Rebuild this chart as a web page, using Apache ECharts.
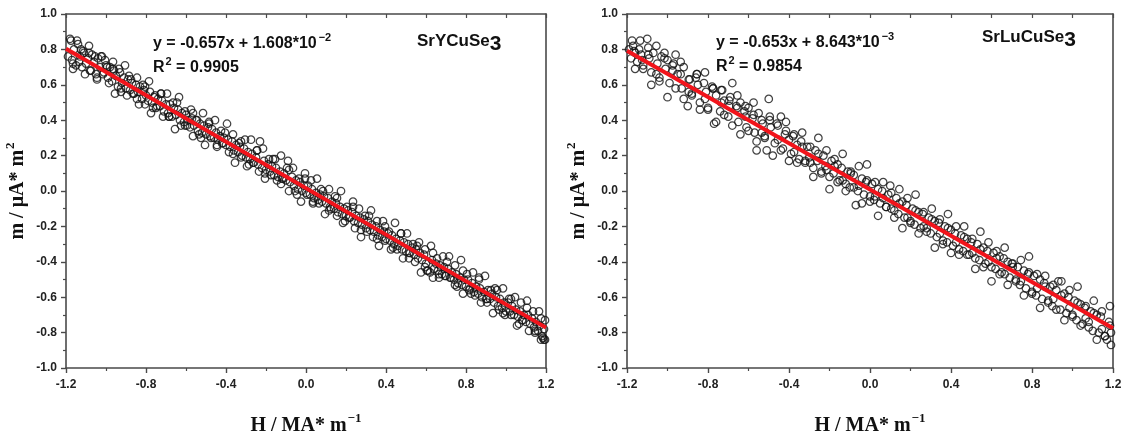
<!DOCTYPE html>
<html><head><meta charset="utf-8">
<script src="https://cdn.jsdelivr.net/npm/echarts@6/dist/echarts.min.js"></script>
<style>html,body{margin:0;padding:0;background:#fff}#c{width:1130px;height:441px}</style>
</head><body><div id="c"></div>
<script>
// ---- data ----
const leftPoints = [
[-1.19,0.76],[-1.18,0.86],[-1.17,0.74],[-1.16,0.80],[-1.15,0.71],[-1.14,0.83],[-1.13,0.76],[-1.12,0.70],[-1.11,0.78],[-1.10,0.72],
[-1.09,0.75],[-1.08,0.68],[-1.07,0.77],[-1.06,0.73],[-1.05,0.66],[-1.04,0.75],[-1.03,0.70],[-1.02,0.76],[-1.01,0.67],[-1.00,0.71],
[-0.99,0.64],[-0.98,0.70],[-0.97,0.62],[-0.96,0.68],[-0.95,0.65],[-0.94,0.59],[-0.93,0.67],[-0.92,0.61],[-0.91,0.64],[-0.90,0.58],
[-0.89,0.63],[-0.88,0.57],[-0.87,0.61],[-0.86,0.55],[-0.85,0.60],[-0.84,0.56],[-0.83,0.59],[-0.82,0.52],[-0.81,0.57],[-0.80,0.54],
[-0.79,0.51],[-0.78,0.56],[-0.77,0.50],[-0.76,0.53],[-0.75,0.47],[-0.74,0.52],[-0.73,0.48],[-0.72,0.51],[-0.71,0.45],[-0.70,0.49],
[-0.69,0.44],[-0.68,0.49],[-0.67,0.42],[-0.66,0.47],[-0.65,0.43],[-0.64,0.46],[-0.63,0.40],[-0.62,0.44],[-0.61,0.39],[-0.60,0.43],
[-0.59,0.40],[-0.58,0.36],[-0.57,0.41],[-0.56,0.37],[-0.55,0.40],[-0.54,0.34],[-0.53,0.38],[-0.52,0.33],[-0.51,0.37],[-0.50,0.32],
[-0.49,0.36],[-0.48,0.31],[-0.47,0.35],[-0.46,0.30],[-0.45,0.33],[-0.44,0.29],[-0.43,0.31],[-0.42,0.27],[-0.41,0.30],[-0.40,0.26],
[-0.39,0.29],[-0.38,0.25],[-0.37,0.28],[-0.36,0.23],[-0.35,0.26],[-0.34,0.22],[-0.33,0.25],[-0.32,0.20],[-0.31,0.24],[-0.30,0.19],
[-0.29,0.22],[-0.28,0.18],[-0.27,0.21],[-0.26,0.16],[-0.25,0.19],[-0.24,0.15],[-0.23,0.28],[-0.22,0.13],[-0.21,0.17],[-0.20,0.12],
[-0.19,0.15],[-0.18,0.11],[-0.17,0.14],[-0.16,0.09],[-0.15,0.13],[-0.14,0.08],[-0.13,0.11],[-0.12,0.07],[-0.11,0.10],[-0.10,0.06],
[-0.09,0.17],[-0.08,0.05],[-0.07,0.08],[-0.06,0.03],[-0.05,0.06],[-0.04,0.01],[-0.03,0.05],[-0.02,0.00],[-0.01,0.03],[0.00,-0.01],
[0.01,0.03],[0.02,-0.02],[0.03,0.01],[0.04,-0.04],[0.05,-0.01],[0.06,-0.05],[0.07,-0.02],[0.08,-0.06],[0.09,-0.03],[0.10,-0.07],
[0.11,-0.04],[0.12,-0.09],[0.13,-0.06],[0.14,-0.10],[0.15,-0.07],[0.16,-0.12],[0.17,-0.09],[0.18,-0.13],[0.19,-0.10],[0.20,-0.14],
[0.21,-0.11],[0.22,-0.15],[0.23,-0.12],[0.24,-0.17],[0.25,-0.14],[0.26,-0.18],[0.27,-0.15],[0.28,-0.19],[0.29,-0.16],[0.30,-0.21],
[0.31,-0.17],[0.32,-0.22],[0.33,-0.19],[0.34,-0.23],[0.35,-0.20],[0.36,-0.25],[0.37,-0.22],[0.38,-0.26],[0.39,-0.23],[0.40,-0.27],
[0.41,-0.24],[0.42,-0.28],[0.43,-0.25],[0.44,-0.30],[0.45,-0.27],[0.46,-0.31],[0.47,-0.28],[0.48,-0.33],[0.49,-0.29],[0.50,-0.34],
[0.51,-0.30],[0.52,-0.35],[0.53,-0.32],[0.54,-0.36],[0.55,-0.33],[0.56,-0.38],[0.57,-0.35],[0.58,-0.39],[0.59,-0.36],[0.60,-0.41],
[0.61,-0.45],[0.62,-0.46],[0.63,-0.39],[0.64,-0.44],[0.65,-0.41],[0.66,-0.45],[0.67,-0.42],[0.68,-0.47],[0.69,-0.43],[0.70,-0.48],
[0.71,-0.44],[0.72,-0.49],[0.73,-0.46],[0.74,-0.50],[0.75,-0.47],[0.76,-0.52],[0.77,-0.49],[0.78,-0.53],[0.79,-0.50],[0.80,-0.54],
[0.81,-0.50],[0.82,-0.55],[0.83,-0.52],[0.84,-0.57],[0.85,-0.54],[0.86,-0.58],[0.87,-0.55],[0.88,-0.60],[0.89,-0.57],[0.90,-0.61],
[0.91,-0.56],[0.92,-0.61],[0.93,-0.58],[0.94,-0.63],[0.95,-0.60],[0.96,-0.65],[0.97,-0.61],[0.98,-0.66],[0.99,-0.63],[1.00,-0.68],
[1.01,-0.63],[1.02,-0.68],[1.03,-0.65],[1.04,-0.70],[1.05,-0.67],[1.06,-0.71],[1.07,-0.68],[1.08,-0.73],[1.09,-0.70],[1.10,-0.74],
[1.11,-0.70],[1.12,-0.75],[1.13,-0.72],[1.14,-0.77],[1.15,-0.74],[1.16,-0.79],[1.17,-0.76],[1.18,-0.82],[1.19,-0.78],[1.19,-0.84],
[-1.165,0.69],[-1.125,0.80],[-1.085,0.78],[-1.045,0.64],[-1.005,0.74],[-0.965,0.69],[-0.925,0.56],[-0.885,0.65],[-0.845,0.52],[-0.805,0.59],
[-0.765,0.47],[-0.725,0.55],[-0.685,0.42],[-0.645,0.50],[-0.605,0.37],[-0.565,0.44],[-0.525,0.30],[-0.485,0.38],[-0.445,0.26],[-0.405,0.33],
[-0.365,0.21],[-0.325,0.28],[-0.285,0.15],[-0.245,0.23],[-0.205,0.10],[-0.165,0.18],[-0.125,0.04],[-0.085,0.12],[-0.045,-0.02],[-0.005,0.07],
[0.035,-0.06],[0.075,0.01],[0.115,-0.11],[0.155,-0.04],[0.195,-0.17],[0.235,-0.09],[0.275,-0.22],[0.315,-0.14],[0.355,-0.27],[0.395,-0.20],
[0.435,-0.32],[0.475,-0.24],[0.515,-0.38],[0.555,-0.31],[0.595,-0.43],[0.635,-0.35],[0.665,-0.47],[0.705,-0.40],[0.745,-0.53],[0.785,-0.45],
[0.825,-0.58],[0.865,-0.50],[0.905,-0.63],[0.945,-0.55],[0.985,-0.69],[1.025,-0.61],[1.065,-0.75],[1.105,-0.66],[1.145,-0.80],[1.175,-0.72],[1.185,-0.83],
[-1.175,0.85],[-1.145,0.85],[-1.115,0.79],[-1.085,0.82],[-1.055,0.76],[-1.025,0.76],[-0.995,0.70],[-0.965,0.73],[-0.935,0.69],[-0.905,0.71],
[-0.875,0.63],[-0.845,0.64],[-0.815,0.60],[-0.785,0.62],[-0.755,0.54],[-0.725,0.55],[-0.695,0.55],[-0.665,0.50],[-0.635,0.53],[-0.605,0.45],
[-0.575,0.46],[-0.545,0.40],[-0.515,0.44],[-0.485,0.39],[-0.455,0.40],[-0.425,0.34],[-0.395,0.38],[-0.365,0.32],[-0.335,0.27],[-0.305,0.29],
[-0.275,0.29],[-0.245,0.23],[-0.215,0.24],[-0.185,0.18],[-0.155,0.18],[-0.125,0.20],[-0.095,0.13],[-0.065,0.13],[-0.035,0.07],[-0.005,0.10],
[0.025,0.06],[0.055,0.07],[0.085,0.00],[0.115,0.01],[0.145,-0.03],[0.175,0.00],[0.205,-0.09],[0.235,-0.06],[0.265,-0.10],[0.295,-0.14],
[0.325,-0.11],[0.355,-0.17],[0.385,-0.17],[0.415,-0.23],[0.445,-0.18],[0.475,-0.24],[0.505,-0.24],[0.535,-0.30],[0.565,-0.29],[0.595,-0.33],
[0.625,-0.31],[0.655,-0.38],[0.685,-0.37],[0.715,-0.37],[0.745,-0.42],[0.775,-0.39],[0.805,-0.47],[0.835,-0.46],[0.865,-0.49],[0.895,-0.48],
[0.925,-0.56],[0.955,-0.56],[0.985,-0.55],[1.015,-0.61],[1.045,-0.60],[1.075,-0.63],[1.105,-0.62],[1.135,-0.68],[1.165,-0.68],[1.195,-0.73],
[-1.165,0.72],[-1.135,0.73],[-1.105,0.66],[-1.075,0.68],[-1.045,0.63],[-1.015,0.66],[-0.985,0.61],[-0.955,0.55],[-0.925,0.58],[-0.895,0.54],
[-0.865,0.55],[-0.835,0.49],[-0.805,0.49],[-0.775,0.44],[-0.745,0.48],[-0.715,0.42],[-0.685,0.42],[-0.655,0.35],[-0.625,0.37],[-0.595,0.37],
[-0.565,0.31],[-0.535,0.32],[-0.505,0.26],[-0.475,0.30],[-0.445,0.25],[-0.415,0.27],[-0.385,0.22],[-0.355,0.16],[-0.325,0.19],[-0.295,0.14],
[-0.265,0.16],[-0.235,0.11],[-0.205,0.07],[-0.175,0.09],[-0.145,0.06],[-0.115,0.07],[-0.085,0.00],[-0.055,0.00],[-0.025,-0.06],[0.005,-0.02],
[0.035,-0.07],[0.065,-0.07],[0.095,-0.13],[0.125,-0.10],[0.155,-0.14],[0.185,-0.18],[0.215,-0.15],[0.245,-0.21],[0.275,-0.26],[0.305,-0.23],
[0.335,-0.26],[0.365,-0.31],[0.395,-0.28],[0.425,-0.33],[0.455,-0.33],[0.485,-0.38],[0.515,-0.35],[0.545,-0.40],[0.575,-0.46],[0.605,-0.45],
[0.635,-0.49],[0.665,-0.49],[0.695,-0.48],[0.725,-0.49],[0.755,-0.54],[0.785,-0.58],[0.815,-0.56],[0.845,-0.59],[0.875,-0.63],[0.905,-0.61],
[0.935,-0.69],[0.965,-0.67],[0.995,-0.70],[1.025,-0.70],[1.055,-0.76],[1.085,-0.73],[1.115,-0.79],[1.145,-0.79],[1.175,-0.84],[1.195,-0.84]
];
const rightPoints = [
[-1.19,0.80],[-1.18,0.75],[-1.17,0.82],[-1.16,0.78],[-1.15,0.73],[-1.14,0.80],[-1.13,0.77],[-1.12,0.71],[-1.10,0.86],[-1.09,0.75],
[-1.08,0.67],[-1.07,0.78],[-1.05,0.72],[-1.04,0.64],[-1.03,0.76],[-1.01,0.69],[-1.00,0.74],[-0.99,0.61],[-0.97,0.72],[-0.96,0.77],
[-0.95,0.66],[-0.93,0.58],[-0.92,0.70],[-0.90,0.48],[-0.89,0.63],[-0.88,0.55],[-0.86,0.64],[-0.85,0.60],[-0.84,0.50],[-0.82,0.61],
[-0.81,0.56],[-0.80,0.47],[-0.78,0.59],[-0.77,0.38],[-0.76,0.54],[-0.74,0.45],[-0.73,0.57],[-0.72,0.51],[-0.70,0.42],[-0.69,0.53],
[-0.68,0.61],[-0.66,0.48],[-0.65,0.39],[-0.64,0.50],[-0.62,0.45],[-0.61,0.36],[-0.60,0.47],[-0.58,0.41],[-0.57,0.33],[-0.56,0.23],
[-0.55,0.44],[-0.53,0.38],[-0.52,0.30],[-0.51,0.23],[-0.50,0.52],[-0.49,0.36],[-0.47,0.27],[-0.46,0.38],[-0.44,0.42],[-0.43,0.24],
[-0.42,0.32],[-0.40,0.29],[-0.39,0.21],[-0.38,0.31],[-0.36,0.26],[-0.35,0.18],[-0.34,0.28],[-0.32,0.16],[-0.31,0.25],[-0.30,0.19],
[-0.28,0.13],[-0.27,0.23],[-0.26,0.17],[-0.24,0.11],[-0.23,0.20],[-0.22,0.14],[-0.20,0.08],[-0.19,0.17],[-0.18,0.10],[-0.16,0.15],
[-0.15,0.06],[-0.14,0.13],[-0.12,0.04],[-0.11,0.11],[-0.10,0.02],[-0.08,0.09],[-0.07,-0.08],[-0.06,0.00],[-0.04,0.07],[-0.03,-0.02],
[-0.02,0.05],[0.00,-0.03],[0.01,0.04],[0.02,-0.05],[0.04,0.01],[0.05,-0.07],[0.06,0.00],[0.08,-0.09],[0.09,-0.02],[0.10,0.03],
[0.12,-0.11],[0.13,-0.04],[0.14,-0.13],[0.16,-0.06],[0.17,-0.15],[0.18,-0.08],[0.20,-0.17],[0.21,-0.10],[0.22,-0.19],[0.24,-0.12],
[0.25,-0.21],[0.26,-0.13],[0.28,-0.23],[0.29,-0.15],[0.30,-0.24],[0.32,-0.17],[0.33,-0.26],[0.34,-0.18],[0.36,-0.28],[0.37,-0.20],
[0.38,-0.29],[0.40,-0.22],[0.41,-0.31],[0.42,-0.24],[0.44,-0.33],[0.45,-0.25],[0.46,-0.34],[0.48,-0.27],[0.49,-0.36],[0.50,-0.29],
[0.52,-0.38],[0.53,-0.30],[0.54,-0.39],[0.56,-0.32],[0.57,-0.41],[0.58,-0.34],[0.60,-0.43],[0.61,-0.35],[0.62,-0.44],[0.64,-0.37],
[0.65,-0.46],[0.66,-0.38],[0.68,-0.40],[0.69,-0.49],[0.70,-0.41],[0.72,-0.51],[0.73,-0.43],[0.74,-0.53],[0.76,-0.45],[0.77,-0.55],
[0.78,-0.47],[0.80,-0.57],[0.81,-0.48],[0.82,-0.59],[0.84,-0.50],[0.85,-0.61],[0.86,-0.52],[0.88,-0.63],[0.89,-0.54],[0.90,-0.65],
[0.92,-0.56],[0.93,-0.51],[0.94,-0.67],[0.96,-0.58],[0.97,-0.69],[0.98,-0.60],[1.00,-0.71],[1.01,-0.62],[1.02,-0.73],[1.04,-0.64],
[1.05,-0.75],[1.06,-0.66],[1.08,-0.77],[1.09,-0.68],[1.10,-0.79],[1.12,-0.70],[1.13,-0.80],[1.14,-0.71],[1.16,-0.82],[1.17,-0.84],
[1.18,-0.74],[1.19,-0.80],
[-1.165,0.79],[-1.125,0.74],[-1.095,0.81],[-1.055,0.66],[-1.015,0.78],[-0.975,0.68],[-0.935,0.66],[-0.895,0.56],[-0.855,0.66],[-0.815,0.52],
[-0.775,0.58],[-0.735,0.50],[-0.695,0.48],[-0.655,0.47],[-0.615,0.42],[-0.575,0.43],[-0.535,0.33],[-0.495,0.40],[-0.455,0.29],[-0.415,0.34],
[-0.375,0.22],[-0.335,0.25],[-0.295,0.16],[-0.255,0.21],[-0.215,0.12],[-0.175,0.14],[-0.135,0.06],[-0.095,0.10],[-0.055,0.03],[-0.015,0.06],
[0.025,-0.03],[0.065,-0.04],[0.105,-0.10],[0.145,-0.07],[0.185,-0.15],[0.225,-0.11],[0.265,-0.20],[0.305,-0.16],[0.345,-0.24],[0.385,-0.21],
[0.425,-0.29],[0.465,-0.26],[0.505,-0.35],[0.545,-0.33],[0.585,-0.40],[0.625,-0.38],[0.665,-0.47],[0.705,-0.43],[0.745,-0.51],[0.785,-0.46],
[0.825,-0.55],[0.865,-0.54],[0.905,-0.61],[0.945,-0.59],[0.985,-0.66],[1.025,-0.63],[1.065,-0.72],[1.105,-0.69],[1.145,-0.78],[1.185,-0.76],
[-1.175,0.85],[-1.135,0.85],[-1.095,0.77],[-1.055,0.82],[-1.015,0.75],[-0.975,0.71],[-0.935,0.73],[-0.895,0.63],[-0.855,0.66],[-0.815,0.67],
[-0.775,0.58],[-0.735,0.57],[-0.695,0.51],[-0.655,0.54],[-0.615,0.48],[-0.575,0.50],[-0.535,0.40],[-0.495,0.42],[-0.455,0.37],[-0.415,0.39],
[-0.375,0.32],[-0.335,0.33],[-0.295,0.25],[-0.255,0.30],[-0.215,0.23],[-0.175,0.18],[-0.135,0.21],[-0.095,0.11],[-0.055,0.14],[-0.015,0.15],
[0.025,0.05],[0.065,0.05],[0.105,-0.01],[0.145,0.01],[0.185,-0.04],[0.225,-0.02],[0.265,-0.12],[0.305,-0.10],[0.345,-0.16],[0.385,-0.13],
[0.425,-0.20],[0.465,-0.20],[0.505,-0.27],[0.545,-0.23],[0.585,-0.29],[0.625,-0.34],[0.665,-0.32],[0.705,-0.41],[0.745,-0.39],[0.785,-0.37],
[0.825,-0.47],[0.865,-0.48],[0.905,-0.53],[0.945,-0.51],[0.985,-0.56],[1.025,-0.54],[1.065,-0.65],[1.105,-0.62],[1.145,-0.68],[1.185,-0.65],
[-1.16,0.69],[-1.12,0.69],[-1.08,0.60],[-1.04,0.62],[-1.00,0.53],[-0.96,0.58],[-0.92,0.52],[-0.88,0.54],[-0.84,0.46],[-0.80,0.46],
[-0.76,0.39],[-0.72,0.43],[-0.68,0.37],[-0.64,0.32],[-0.60,0.34],[-0.56,0.28],[-0.52,0.31],[-0.48,0.20],[-0.44,0.23],[-0.40,0.17],
[-0.36,0.16],[-0.32,0.17],[-0.28,0.08],[-0.24,0.10],[-0.20,0.01],[-0.16,0.05],[-0.12,0.00],[-0.08,0.02],[-0.04,-0.07],[0.00,-0.06],
[0.04,-0.14],[0.08,-0.09],[0.12,-0.15],[0.16,-0.21],[0.20,-0.18],[0.24,-0.24],[0.28,-0.21],[0.32,-0.32],[0.36,-0.30],[0.40,-0.35],
[0.44,-0.36],[0.48,-0.36],[0.52,-0.44],[0.56,-0.43],[0.60,-0.51],[0.64,-0.47],[0.68,-0.53],[0.72,-0.50],[0.76,-0.59],[0.80,-0.58],
[0.84,-0.66],[0.88,-0.62],[0.92,-0.67],[0.96,-0.73],[1.00,-0.70],[1.04,-0.76],[1.08,-0.74],[1.12,-0.84],[1.16,-0.82],[1.19,-0.87]
];
const leftFitX = [-1.2, 1.2];
const leftFitY = [0.804, -0.772];
const rightFitX = [-1.2, 1.2];
const rightFitY = [0.792, -0.775];
const leftEquation = ['y = -0.657x + 1.608*10', '\u22122', '0.9905'];
const rightEquation = ['y = -0.653x + 8.643*10', '\u22123', '0.9854'];
const compounds = ['SrYCuSe', 'SrLuCuSe'];
const xTitle = ['H / MA* m', '\u22121'];
const yTitle = ['m / \u03bcA* m', '2'];

// ---- chart ----
const chart = echarts.init(document.getElementById('c'), null, {renderer: 'canvas'});
const axisColor = '#4a4a4a';
const sans = 'Liberation Sans, Arial, sans-serif';
const serif = 'Liberation Serif, Times New Roman, serif';
const tickFmt = v => v.toFixed(1);
const grids = [
  {left: 66, top: 14, width: 480, height: 360},
  {left: 627, top: 14, width: 486, height: 360}
];
const nameRich = {
  b: {fontFamily: serif, fontWeight: 'bold', fontSize: 20, color: '#111', lineHeight: 24, verticalAlign: 'bottom'},
  s: {fontFamily: serif, fontWeight: 'bold', fontSize: 13, color: '#111', lineHeight: 24, verticalAlign: 'top', padding: [0,0,0,1]}
};
const xAxes = [], yAxes = [];
[0,1].forEach(g => {
  xAxes.push({
    type: 'value', gridIndex: g, min: -1.2, max: 1.2, interval: 0.4, position: 'bottom',
    axisLine: {show: true, onZero: false, lineStyle: {color: axisColor, width: 1.6}},
    axisTick: {show: true, inside: false, length: 5, lineStyle: {color: axisColor, width: 1.4}},
    minorTick: {show: true, splitNumber: 2, length: 3, lineStyle: {color: axisColor, width: 1.2}},
    splitLine: {show: false},
    axisLabel: {formatter: tickFmt, fontFamily: sans, fontWeight: 'bold', fontSize: 12, color: '#222', margin: 11},
    name: '{b|' + xTitle[0] + '}{s|' + xTitle[1] + '}', nameLocation: 'middle', nameGap: 44,
    nameTextStyle: {rich: nameRich}
  });
  xAxes.push({
    type: 'value', gridIndex: g, min: -1.2, max: 1.2, interval: 0.2, position: 'top',
    axisLine: {show: true, onZero: false, lineStyle: {color: axisColor, width: 1.6}},
    axisTick: {show: true, inside: true, length: 4, lineStyle: {color: axisColor, width: 1.2}},
    axisLabel: {show: false}, splitLine: {show: false}
  });
  yAxes.push({
    type: 'value', gridIndex: g, min: -1.0, max: 1.0, interval: 0.2, position: 'left',
    axisLine: {show: true, onZero: false, lineStyle: {color: axisColor, width: 1.6}},
    axisTick: {show: true, inside: false, length: 5, lineStyle: {color: axisColor, width: 1.4}},
    minorTick: {show: true, splitNumber: 2, length: 3, lineStyle: {color: axisColor, width: 1.2}},
    splitLine: {show: false},
    axisLabel: {formatter: tickFmt, fontFamily: sans, fontWeight: 'bold', fontSize: 12, color: '#222', margin: 9},
    name: '{b|' + yTitle[0] + '}{s|' + yTitle[1] + '}', nameLocation: 'middle', nameGap: 38, nameRotate: 90,
    nameTextStyle: {rich: nameRich}
  });
  yAxes.push({
    type: 'value', gridIndex: g, min: -1.0, max: 1.0, interval: 0.2, position: 'right',
    axisLine: {show: true, onZero: false, lineStyle: {color: axisColor, width: 1.6}},
    axisTick: {show: false}, axisLabel: {show: false}, splitLine: {show: false}
  });
});

const scatterStyle = {color: 'rgba(255,255,255,0)', borderColor: '#141414', borderWidth: 1.25};
const fitStyle = {color: '#f2141b', width: 4};
const zipPts = (xs, ys) => xs.map((x, i) => [x, ys[i]]);

const eqRich = {
  a: {fontFamily: sans, fontWeight: 'bold', fontSize: 16, fill: '#111', lineHeight: 20, verticalAlign: 'bottom'},
  s: {fontFamily: sans, fontWeight: 'bold', fontSize: 11, fill: '#111', lineHeight: 20, verticalAlign: 'top', padding: [0,0,0,2]}
};
const cRich = {
  a: {fontFamily: sans, fontWeight: 'bold', fontSize: 17, fill: '#111', lineHeight: 22, verticalAlign: 'top'},
  s: {fontFamily: sans, fontWeight: 'bold', fontSize: 21, fill: '#111', lineHeight: 22, verticalAlign: 'bottom', padding: [8,0,0,0]}
};
function eqGraphics(x, y, eq, cx, cy, comp) {
  return [
    {type: 'text', left: x, top: y, z: 100, style: {text: '{a|' + eq[0] + '}{s|' + eq[1] + '}', rich: eqRich}},
    {type: 'text', left: x, top: y + 24, z: 100, style: {text: '{a|R}{s|2}{a| = ' + eq[2] + '}', rich: {
      a: eqRich.a, s: Object.assign({}, eqRich.s, {padding: [0,0,0,1]})}}},
    {type: 'text', left: cx, top: cy, z: 100, style: {text: '{a|' + comp + '}{s|3}', rich: cRich}}
  ];
}

chart.setOption({
  animation: false,
  backgroundColor: '#fff',
  grid: grids,
  xAxis: xAxes,
  yAxis: yAxes,
  series: [
    {type: 'scatter', xAxisIndex: 0, yAxisIndex: 0, data: leftPoints, symbol: 'circle', symbolSize: 7.5, itemStyle: scatterStyle, z: 2},
    {type: 'line', xAxisIndex: 0, yAxisIndex: 0, data: zipPts(leftFitX, leftFitY), symbol: 'none', lineStyle: fitStyle, z: 3},
    {type: 'scatter', xAxisIndex: 2, yAxisIndex: 2, data: rightPoints, symbol: 'circle', symbolSize: 7.5, itemStyle: scatterStyle, z: 2},
    {type: 'line', xAxisIndex: 2, yAxisIndex: 2, data: zipPts(rightFitX, rightFitY), symbol: 'none', lineStyle: fitStyle, z: 3}
  ],
  graphic: [].concat(
    eqGraphics(153, 32, leftEquation, 417, 26, compounds[0]),
    eqGraphics(716, 31, rightEquation, 982, 22, compounds[1])
  )
});
</script></body></html>
